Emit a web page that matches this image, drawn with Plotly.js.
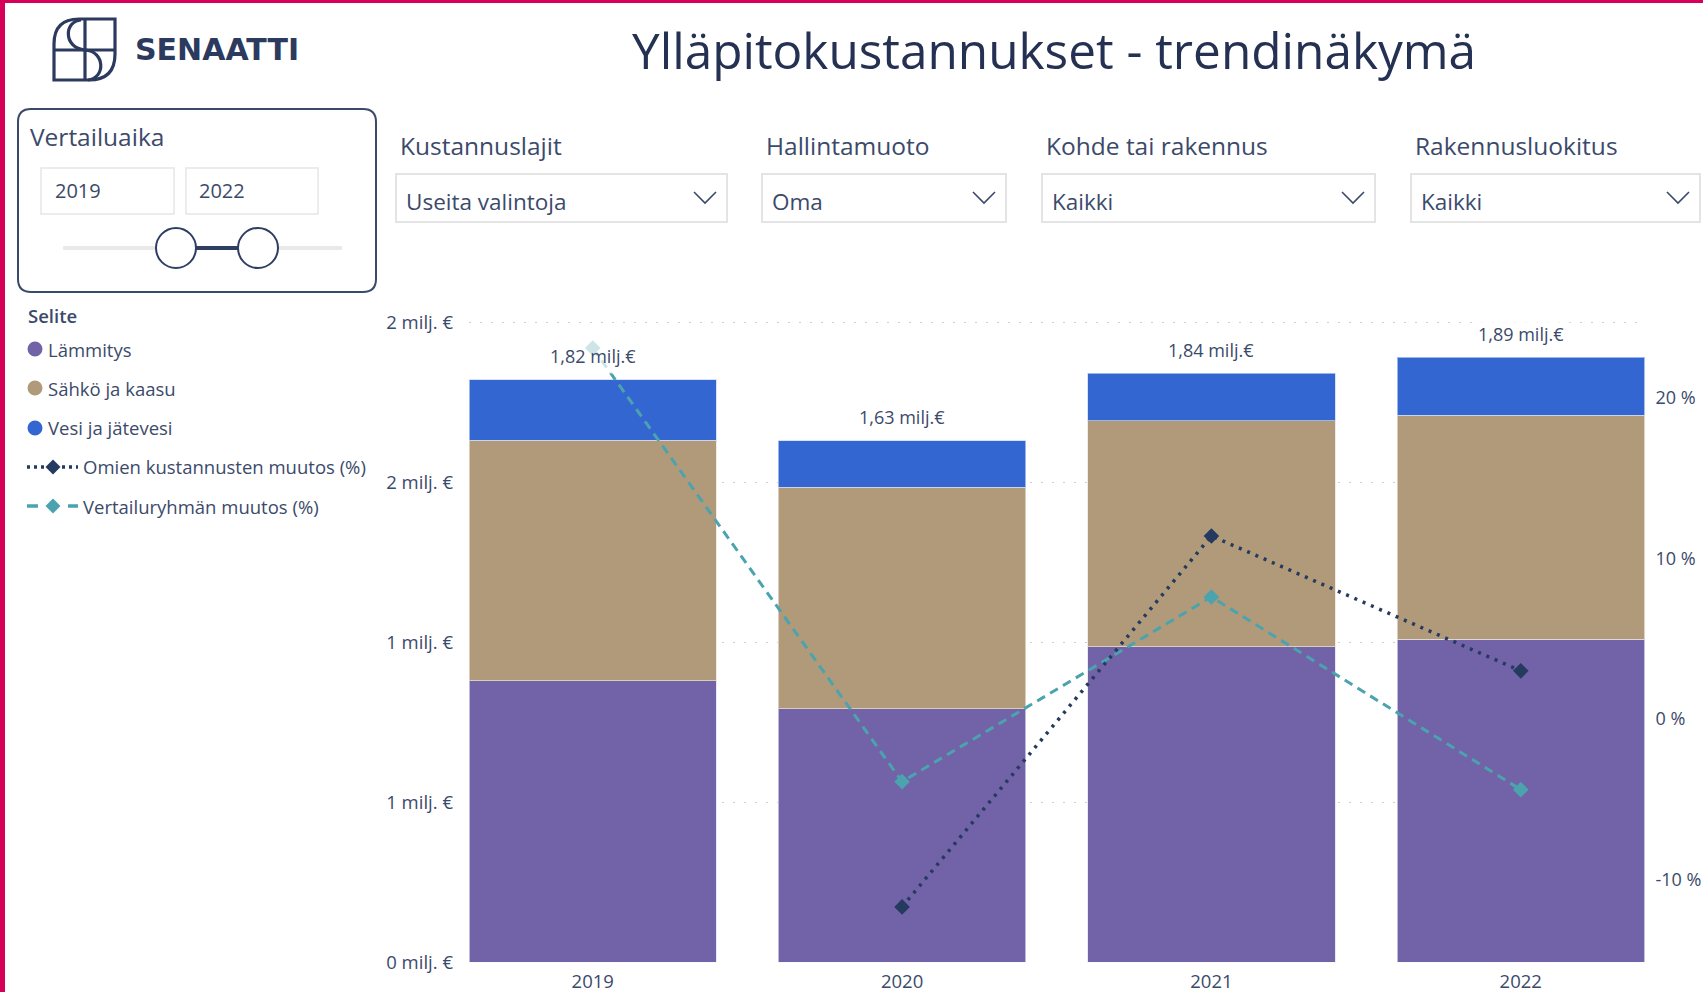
<!DOCTYPE html>
<html>
<head>
<meta charset="utf-8">
<script src="https://cdn.plot.ly/plotly-3.0.1.min.js"></script>
<style>
  html, body { margin: 0; padding: 0; background: #ffffff; }
  #chart { width: 1703px; height: 992px; }
</style>
</head>
<body>
<div id="chart"></div>
<script>
// ---------------- DATA ----------------
const categories = ['2019', '2020', '2021', '2022'];
const lammitys = [0.880, 0.792, 0.986, 1.010];        // milj. €
const sahkoJaKaasu = [0.752, 0.693, 0.706, 0.700];    // milj. €
const vesiJaJatevesi = [0.188, 0.145, 0.148, 0.180];  // milj. €
const omienMuutos = [null, -11.7, 11.4, 3.0];         // %
const vertailuMuutos = [23.1, -3.9, 7.6, -4.4];       // %
const seriesNames = ['Lämmitys', 'Sähkö ja kaasu', 'Vesi ja jätevesi',
                     'Omien kustannusten muutos (%)', 'Vertailuryhmän muutos (%)'];
const leftTickVals = [0, 0.5, 1, 1.5, 2];
const leftTickText = ['0 milj. €', '1 milj. €', '1 milj. €', '2 milj. €', '2 milj. €'];
const rightTickVals = [-10, 0, 10, 20];
const rightTickText = ['-10 %', '0 %', '10 %', '20 %'];
const titleText = 'Ylläpitokustannukset - trendinäkymä';
const legendTitle = 'Selite';
const sliderTitle = 'Vertailuaika';
const sliderValues = ['2019', '2022'];
const filterLabels = ['Kustannuslajit', 'Hallintamuoto', 'Kohde tai rakennus', 'Rakennusluokitus'];
const filterValues = ['Useita valintoja', 'Oma', 'Kaikki', 'Kaikki'];
const logoText = 'SENAATTI';

// ---------------- STYLE ----------------
const W = 1703, H = 992;
const px = x => x / W;
const py = y => 1 - y / H;
const FONT = 'Open Sans, Noto Sans, sans-serif';
const TXT = '#3B4A6B';
const NAVY = '#2B3A5E';
const colors = ['#7262A8', '#B09A7A', '#3366D0', '#243A5E', '#4BA3AE'];

function P(pts) { // build path from pixel-coord commands
  return pts.replace(/(-?\d+(\.\d+)?),(-?\d+(\.\d+)?)/g, (m, a, _, b) => px(+a).toFixed(5) + ',' + py(+b).toFixed(5));
}
function roundRect(x0, y0, x1, y1, r) {
  return P(`M${x0 + r},${y0} L${x1 - r},${y0} Q${x1},${y0} ${x1},${y0 + r} L${x1},${y1 - r} Q${x1},${y1} ${x1 - r},${y1} L${x0 + r},${y1} Q${x0},${y1} ${x0},${y1 - r} L${x0},${y0 + r} Q${x0},${y0} ${x0 + r},${y0} Z`);
}
function rect(x0, y0, x1, y1, line, fill, w) {
  return { type: 'rect', xref: 'paper', yref: 'paper', x0: px(x0), x1: px(x1), y0: py(y1), y1: py(y0),
           line: { color: line, width: w === undefined ? 1 : w }, fillcolor: fill || 'rgba(0,0,0,0)' };
}
function path(d, color, width, fill, dash) {
  return { type: 'path', xref: 'paper', yref: 'paper', path: d,
           line: { color: color, width: width, dash: dash || 'solid' }, fillcolor: fill || 'rgba(0,0,0,0)' };
}
function circle(cx, cy, r, line, fill, w) {
  return { type: 'circle', xref: 'paper', yref: 'paper', x0: px(cx - r), x1: px(cx + r), y0: py(cy + r), y1: py(cy - r),
           line: { color: line, width: w }, fillcolor: fill };
}
function text(t, x, y, size, opts) {
  opts = opts || {};
  return Object.assign({ text: t, xref: 'paper', yref: 'paper', x: px(x), y: py(y), showarrow: false,
    xanchor: 'left', yanchor: 'middle', font: { family: FONT, size: size, color: TXT } }, opts);
}
function diamond(cx, cy, s, color) {
  return path(P(`M${cx},${cy - s} L${cx + s},${cy} L${cx},${cy + s} L${cx - s},${cy} Z`), color, 0, color);
}

// ---------------- TRACES ----------------
const traces = [
  { type: 'bar', name: seriesNames[0], x: categories, y: lammitys, marker: { color: colors[0], line: { color: 'rgba(225,222,240,0.7)', width: 1 } }, yaxis: 'y' },
  { type: 'bar', name: seriesNames[1], x: categories, y: sahkoJaKaasu, marker: { color: colors[1], line: { color: 'rgba(235,228,215,0.7)', width: 1 } }, yaxis: 'y' },
  { type: 'bar', name: seriesNames[2], x: categories, y: vesiJaJatevesi, marker: { color: colors[2], line: { color: 'rgba(200,215,245,0.7)', width: 1 } }, yaxis: 'y' },
  { type: 'scatter', mode: 'lines+markers', name: seriesNames[4], x: categories, y: vertailuMuutos, yaxis: 'y2',
    line: { color: colors[4], width: 3, dash: '9px,6px' }, marker: { symbol: 'diamond', size: 12, color: colors[4] } },
  { type: 'scatter', mode: 'lines+markers', name: seriesNames[3], x: categories, y: omienMuutos, yaxis: 'y2',
    line: { color: colors[3], width: 3.5, dash: '3px,6px' }, marker: { symbol: 'diamond', size: 12, color: colors[3] } }
];

// ---------------- ANNOTATIONS ----------------
const annotations = [];
// total labels above bars (x given as category index)
categories.forEach((c, i) => {
  const total = lammitys[i] + sahkoJaKaasu[i] + vesiJaJatevesi[i];
  annotations.push({ x: i, y: total, xref: 'x', yref: 'y', text: total.toFixed(2).replace('.', ',') + ' milj.€',
    showarrow: false, xanchor: 'center', yanchor: 'middle', yshift: 24, bgcolor: 'rgba(255,255,255,0.72)', borderpad: 5,
    font: { family: FONT, size: 18, color: TXT } });
});
annotations.push(text(titleText, 1054, 50, 49.5, { xanchor: 'center', font: { family: FONT, size: 49.5, color: '#243152' } }));
annotations.push(text(logoText, 133, 49, 30, { font: { family: 'DejaVu Sans, sans-serif', size: 30, color: NAVY, weight: 'bold' } }));
annotations.push(text(sliderTitle, 28, 136, 24.5));
annotations.push(text(sliderValues[0], 53, 191, 20));
annotations.push(text(sliderValues[1], 197, 191, 20));

const dd = [[396, 727], [762, 1006], [1042, 1375], [1411, 1700]];
filterLabels.forEach((l, i) => {
  annotations.push(text(l, dd[i][0] + 2, 145, 24.5));
  annotations.push(text(filterValues[i], dd[i][0] + 8, 201, 22.5));
});

annotations.push(text(legendTitle, 26, 315, 18.5, { font: { family: FONT, size: 18.5, color: TXT, weight: 600 } }));
const legY = [349, 388, 428, 467, 506];
[0, 1, 2].forEach(i => annotations.push(text(seriesNames[i], 46, legY[i], 18.5)));
[3, 4].forEach(i => annotations.push(text(seriesNames[i], 81, legY[i], 18.5)));

// ---------------- SHAPES ----------------
const shapes = [];
// pink frame
shapes.push(rect(0, 0, 5, H, '#D4005A', '#D4005A', 0));
shapes.push(rect(0, 0, W, 3, '#D4005A', '#D4005A', 0));
// logo
shapes.push(path(P('M54,80 L54,44 Q54,19 79,19 L115,19 L115,54 Q115,80 89,80 Z'), NAVY, 3.2));
shapes.push(path(P('M85,19 L85,80 M54,50 L115,50'), NAVY, 3.2));
shapes.push(path(P('M81,20 C64,21 63,48 85,50'), NAVY, 3.2));
shapes.push(path(P('M85,50 C105,51 106,78 88,80'), NAVY, 3.2));
// slicer box
shapes.push(path(roundRect(18, 109, 376, 292, 13), '#3B4A6B', 2));
shapes.push(rect(41, 168, 174, 214, '#E6E6E6', '#FFFFFF', 1.5));
shapes.push(rect(186, 168, 318, 214, '#E6E6E6', '#FFFFFF', 1.5));
shapes.push(path(P('M63,248 L342,248'), '#E9E9E9', 4));
shapes.push(path(P('M176,248 L258,248'), '#2F3F62', 4));
shapes.push(circle(176, 248, 20, '#2F3F62', '#FFFFFF', 2));
shapes.push(circle(258, 248, 20, '#2F3F62', '#FFFFFF', 2));
// dropdowns
dd.forEach(([a, b]) => {
  shapes.push(rect(a, 174, b, 222, '#E4E4E4', '#FFFFFF', 2));
  const cx = b - 22;
  shapes.push(path(P(`M${cx - 11},${192} L${cx},${203} L${cx + 11},${192}`), '#3B4A6B', 1.6));
});
// legend markers
[0, 1, 2].forEach(i => shapes.push(circle(35, legY[i], 7.5, colors[i], colors[i], 0)));
shapes.push(path(P(`M27,${legY[3]} L78,${legY[3]}`), colors[3], 3.5, null, '3px,4px'));
shapes.push(circle(53, legY[3], 9, '#FFFFFF', '#FFFFFF', 0));
shapes.push(diamond(53, legY[3], 7.5, colors[3]));
shapes.push(path(P(`M27,${legY[4]} L38,${legY[4]} M68,${legY[4]} L78,${legY[4]}`), colors[4], 3.5));
shapes.push(diamond(53, legY[4], 7.5, colors[4]));

// ---------------- LAYOUT ----------------
const layout = {
  width: W, height: H,
  margin: { l: 0, r: 0, t: 0, b: 0, pad: 0 },
  paper_bgcolor: '#FFFFFF', plot_bgcolor: 'rgba(0,0,0,0)',
  showlegend: false,
  barmode: 'stack', bargap: 0.2,
  font: { family: FONT, color: TXT },
  xaxis: {
    type: 'category', categoryarray: categories, range: [-0.4, 3.4],
    domain: [px(469), px(1644.5)], showgrid: false, zeroline: false, showline: false, ticks: '',
    tickfont: { family: FONT, size: 18.5, color: TXT }, ticklabelstandoff: 6, automargin: false, fixedrange: true
  },
  yaxis: {
    range: [0, 2.05], domain: [py(962.3), py(306.3)],
    tickvals: leftTickVals, ticktext: leftTickText,
    showgrid: true, gridcolor: '#CFCFCF', gridwidth: 1.5, griddash: '2px,9px',
    zeroline: false, showline: false, ticks: '', ticklabelstandoff: 15,
    tickfont: { family: FONT, size: 18.5, color: TXT }, automargin: false, fixedrange: true
  },
  yaxis2: {
    overlaying: 'y', side: 'right', range: [-15.15, 25.7],
    tickvals: rightTickVals, ticktext: rightTickText,
    showgrid: false, zeroline: false, showline: false, ticks: '', ticklabelstandoff: 10,
    tickfont: { family: FONT, size: 18, color: TXT }, automargin: false, fixedrange: true
  },
  annotations: annotations,
  shapes: shapes
};

Plotly.newPlot('chart', traces, layout, { displayModeBar: false, staticPlot: true });
</script>
</body>
</html>
